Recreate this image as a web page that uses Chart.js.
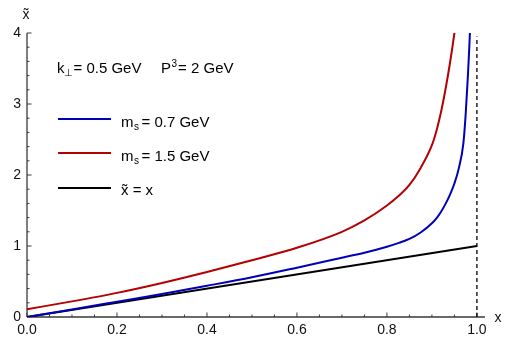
<!DOCTYPE html>
<html lang="en">
<head>
    <meta charset="UTF-8">
    <title>x tilde vs x</title>
    <style>
        body { margin: 0; padding: 0; background: #fff; }
        .wrap { width: 513px; height: 339px; position: relative; }
    </style>
    <script src="https://cdn.jsdelivr.net/npm/chart.js"></script>
</head>
<body>
    <div class="wrap">
        <canvas id="chart"></canvas>
    </div>
    <script>
        // values
        const xs = [0, 0.1, 0.2, 0.3, 0.4, 0.5, 0.6, 0.7, 0.75, 0.8, 0.825, 0.85, 0.875, 0.9, 0.91, 0.92, 0.93, 0.94, 0.95, 0.96, 0.97, 0.975, 0.98, 0.985, 0.99];
        const blueY = [0, 0.105, 0.215, 0.325, 0.44, 0.56, 0.695, 0.835, 0.905, 0.99, 1.04, 1.10, 1.19, 1.32, 1.39, 1.48, 1.59, 1.72, 1.88, 2.10, 2.45, 2.85, 3.4, 4.1, 5.2];
        const redY = [0.11, 0.22, 0.34, 0.48, 0.635, 0.80, 0.975, 1.20, 1.36, 1.57, 1.70, 1.86, 2.10, 2.42, 2.62, 2.88, 3.2, 3.57, 4.0, 4.5, null, null, null, null, null];
        const lineX = [0, 1];
        const lineY = [0, 1];
        const dashX = [1, 1];
        const dashY = [0, 3.95];

        const xTicks = ['0.0', '0.2', '0.4', '0.6', '0.8', '1.0'];
        const yTicks = ['0', '1', '2', '3', '4'];

        const BLUE = 'rgb(0,0,185)';
        const RED = 'rgb(180,0,0)';
        const FONT = '"Liberation Sans", Arial, sans-serif';

        function pts(x, y) {
            return x.map((v, i) => ({ x: v, y: y[i] }));
        }

        // draw pieces of text one after another: [text, size, dy, gapBefore]
        function rich(ctx, x, y, parts) {
            let cx = x;
            parts.forEach(p => {
                cx += p[3] || 0;
                ctx.font = p[1] + 'px ' + FONT;
                ctx.fillText(p[0], cx, y + p[2]);
                cx += ctx.measureText(p[0]).width;
            });
        }

        const axesPlugin = {
            id: 'axesPlugin',
            beforeDatasetsDraw(chart) {
                const ctx = chart.ctx;
                const xs_ = chart.scales.x, ys_ = chart.scales.y;
                const x0 = xs_.getPixelForValue(0), y0 = ys_.getPixelForValue(0);
                const yTop = ys_.getPixelForValue(4);
                const xEnd = xs_.right;
                ctx.save();
                ctx.strokeStyle = '#3a3a3a';
                ctx.lineWidth = 1.3;
                ctx.beginPath();
                ctx.moveTo(x0, y0); ctx.lineTo(xEnd, y0);
                ctx.moveTo(x0, y0); ctx.lineTo(x0, yTop);
                ctx.stroke();
                ctx.lineWidth = 1;
                ctx.beginPath();
                for (let i = 0; i <= 20; i++) {
                    const px = xs_.getPixelForValue(i * 0.05);
                    const len = i % 4 === 0 ? 4.5 : 2.5;
                    ctx.moveTo(px, y0); ctx.lineTo(px, y0 - len);
                }
                for (let i = 0; i <= 20; i++) {
                    const py = ys_.getPixelForValue(i * 0.2);
                    const len = i % 5 === 0 ? 4.5 : 2.5;
                    ctx.moveTo(x0, py); ctx.lineTo(x0 + len, py);
                }
                ctx.stroke();

                ctx.fillStyle = '#111';
                ctx.font = '14px ' + FONT;
                ctx.textAlign = 'center';
                ctx.textBaseline = 'middle';
                xTicks.forEach(t => {
                    ctx.fillText(t, xs_.getPixelForValue(parseFloat(t)), y0 + 13);
                });
                ctx.textAlign = 'right';
                yTicks.forEach(t => {
                    ctx.fillText(t, x0 - 6, ys_.getPixelForValue(parseFloat(t)));
                });
                ctx.textAlign = 'center';
                ctx.fillText('x\u0303', x0 - 1, 15);
                ctx.fillText('x', 498, y0 + 1);
                ctx.restore();
            },
            afterDraw(chart) {
                const ctx = chart.ctx;
                ctx.save();
                ctx.fillStyle = '#000';
                ctx.textAlign = 'left';
                ctx.textBaseline = 'alphabetic';
                rich(ctx, 57, 73, [['k', 15, 0], ['\u22a5', 10, 3, -0.5], ['= 0.5 GeV', 15, 0, 0.5]]);
                rich(ctx, 161, 73, [['P', 15, 0], ['3', 10, -6, 0.5], ['= 2 GeV', 15, 0, 1]]);

                const legend = [
                    [BLUE, 119, '0.7 GeV'],
                    [RED, 153, '1.5 GeV'],
                    ['#000', 188, null]
                ];
                legend.forEach(l => {
                    ctx.strokeStyle = l[0];
                    ctx.lineWidth = 2;
                    ctx.beginPath();
                    ctx.moveTo(58, l[1]); ctx.lineTo(111, l[1]);
                    ctx.stroke();
                    if (l[2]) {
                        rich(ctx, 121, l[1] + 8, [['m', 15, 0], ['s', 10, 3, 0.5], ['= ' + l[2], 15, 0, 2.5]]);
                    } else {
                        rich(ctx, 121, l[1] + 7, [['x\u0303 = x', 15, 0]]);
                    }
                });
                ctx.restore();
            }
        };

        new Chart(document.getElementById('chart'), {
            type: 'line',
            data: {
                datasets: [
                    {
                        label: 'ms = 0.7 GeV',
                        data: pts(xs, blueY),
                        borderColor: BLUE,
                        borderWidth: 2,
                        pointRadius: 0,
                        cubicInterpolationMode: 'monotone',
                        fill: false
                    },
                    {
                        label: 'ms = 1.5 GeV',
                        data: pts(xs, redY),
                        borderColor: RED,
                        borderWidth: 2,
                        pointRadius: 0,
                        cubicInterpolationMode: 'monotone',
                        fill: false
                    },
                    {
                        label: 'x~ = x',
                        data: pts(lineX, lineY),
                        borderColor: '#000',
                        borderWidth: 2,
                        pointRadius: 0,
                        fill: false
                    },
                    {
                        label: 'x = 1',
                        data: pts(dashX, dashY),
                        borderColor: '#000',
                        borderWidth: 1.3,
                        borderDash: [4, 3],
                        pointRadius: 0,
                        fill: false
                    }
                ]
            },
            options: {
                responsive: true,
                maintainAspectRatio: false,
                animation: false,
                layout: { padding: { left: 27, right: 28, top: 33, bottom: 22 } },
                plugins: {
                    legend: { display: false },
                    tooltip: { enabled: false }
                },
                scales: {
                    x: { type: 'linear', min: 0, max: 1.018, display: false },
                    y: { type: 'linear', min: 0, max: 4, display: false }
                }
            },
            plugins: [axesPlugin]
        });
    </script>
</body>
</html>
